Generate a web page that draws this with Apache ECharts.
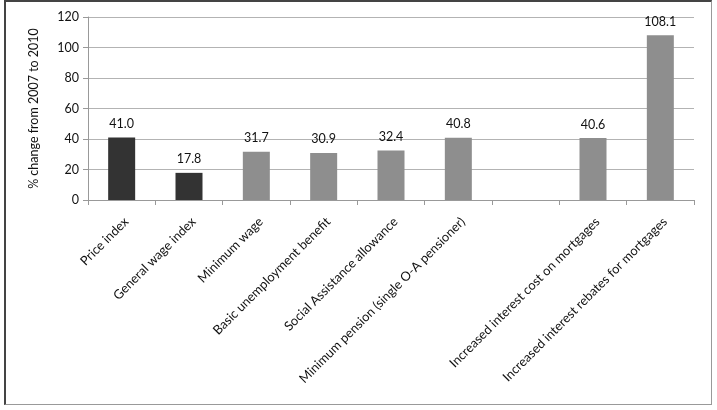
<!DOCTYPE html>
<html>
<head>
<meta charset="utf-8">
<script src="https://cdn.jsdelivr.net/npm/echarts@6/dist/echarts.min.js"></script>
<style>
html,body{margin:0;padding:0;background:#fff;}
#wrap{position:relative;width:717px;height:410px;}
#chart{position:absolute;left:0;top:0;width:717px;height:410px;}
#frame{position:absolute;left:4px;top:0px;width:705px;height:402px;border-left:2px solid #444;border-top:2px solid #444;border-right:1px solid #999;border-bottom:1px solid #999;pointer-events:none;}
</style>
</head>
<body>
<div id="wrap"><div id="chart"></div><div id="frame"></div></div>
<script>
const categories = ['Price index','General wage index','Minimum wage','Basic unemployment benefit','Social Assistance allowance','Minimum pension (single O-A pensioner)','','Increased interest cost on mortgages','Increased interest rebates for mortgages'];
const values = [41.0, 17.8, 31.7, 30.9, 32.4, 40.8, null, 40.6, 108.1];
const barColors = ['#333333','#333333','#8e8e8e','#8e8e8e','#8e8e8e','#8e8e8e','#8e8e8e','#8e8e8e','#8e8e8e'];
const yTicks = {min: 0, max: 120, interval: 20};
const yName = '% change from 2007 to 2010';

const font = 'Lato';
const chart = echarts.init(document.getElementById('chart'));
chart.setOption({
  animation: false,
  textStyle: {fontFamily: font},
  grid: {left: 88, right: 23, top: 17, bottom: 210, containLabel: false},
  xAxis: {
    type: 'category',
    data: categories,
    axisLine: {lineStyle: {color: '#999', width: 1}},
    axisTick: {show: true, length: 5, lineStyle: {color: '#999'}},
    axisLabel: {interval: 0, rotate: 45, margin: 15, verticalAlign: 'top', color: '#111', fontSize: 12.8, fontFamily: font}
  },
  yAxis: {
    type: 'value',
    min: yTicks.min, max: yTicks.max, interval: yTicks.interval,
    name: yName,
    nameLocation: 'middle',
    nameGap: 48,
    nameTextStyle: {color: '#111', fontSize: 12.5, fontFamily: font},
    axisLine: {show: true, lineStyle: {color: '#999'}},
    axisTick: {show: true, length: 5, lineStyle: {color: '#999'}},
    axisLabel: {color: '#111', fontSize: 12.5, margin: 9, fontFamily: font},
    splitLine: {lineStyle: {color: '#b3b3b3', width: 1}}
  },
  series: [{
    type: 'bar',
    barWidth: 27,
    data: values.map((v, i) => ({value: v, itemStyle: {color: barColors[i]}})),
    label: {
      show: true, position: 'top', distance: 7,
      color: '#111', fontSize: 12.5, fontFamily: font,
      formatter: p => (p.value == null ? '' : Number(p.value).toFixed(1))
    }
  }]
});
</script>
</body>
</html>
